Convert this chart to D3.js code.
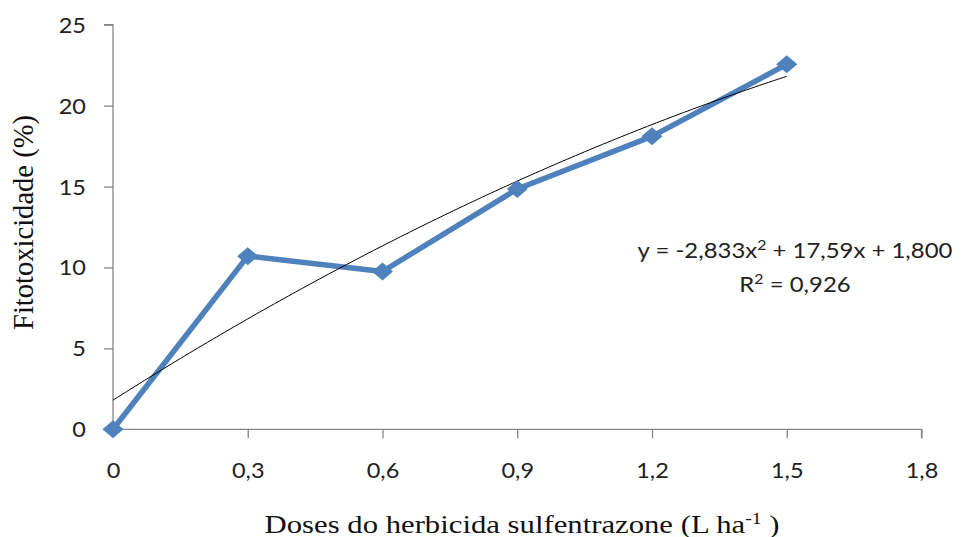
<!DOCTYPE html>
<html><head><meta charset="utf-8">
<script src="https://cdn.jsdelivr.net/npm/d3@7"></script>
<style>body{margin:0;background:#fff}svg{display:block}</style>
</head><body>
<svg id="c" width="963" height="537"></svg>
<script>
const doses = [0, 0.3, 0.6, 0.9, 1.2, 1.5];
const fitotox = [0, 10.7, 9.75, 14.85, 18.1, 22.55];
const xTicks = [0, 0.3, 0.6, 0.9, 1.2, 1.5, 1.8];
const xTickLabels = ["0", "0,3", "0,6", "0,9", "1,2", "1,5", "1,8"];
const yTicks = [0, 5, 10, 15, 20, 25];
const trendCoef = [-2.833, 17.59, 1.800]; // a x^2 + b x + c, from chart equation

const svg = d3.select("#c");
const x = d3.scaleLinear().domain([0, 1.8]).range([113, 921.5]);
const y = d3.scaleLinear().domain([0, 25]).range([429.3, 24.7]);
const axisColor = "#868686";
const tickFont = "Lato, 'Open Sans', sans-serif";
const serif = "'Liberation Serif', 'Times New Roman', serif";
const SX = 1.12; // horizontal stretch of the reference

// Y axis
const ya = svg.append("g").attr("transform", `translate(${x(0)},0)`)
  .call(d3.axisLeft(y).tickValues(yTicks).tickSize(9).tickFormat(d3.format("d")));
ya.select(".domain").attr("stroke", axisColor).attr("stroke-width", 1.3).attr("d", `M-9,${y(25)}H0V${y(0)}`);
ya.selectAll(".tick line").attr("stroke", axisColor).attr("stroke-width", 1.3);
ya.selectAll(".tick text").attr("font-family", tickFont).attr("font-size", 21).attr("fill", "#222")
  .attr("x", 0).attr("dy", null).attr("y", 7.5).attr("text-anchor","end")
  .attr("transform", `translate(-27,0) scale(${SX},1)`);

// X axis
const xa = svg.append("g").attr("transform", `translate(0,${y(0)})`)
  .call(d3.axisBottom(x).tickValues(xTicks).tickSize(9).tickFormat((d,i)=>xTickLabels[i]));
xa.select(".domain").attr("stroke", axisColor).attr("stroke-width", 1.3).attr("d", `M${x(0)},0H${x(1.8)}V9`);
xa.selectAll(".tick").filter(d=>d===0).select("line").remove();
xa.selectAll(".tick line").attr("stroke", axisColor).attr("stroke-width", 1.3);
xa.selectAll(".tick text").attr("font-family", tickFont).attr("font-size", 21).attr("fill", "#222")
  .attr("dy", null).attr("y", 48.5).attr("transform", `scale(${SX},1)`);

// Data line
const pts = doses.map((d,i)=>[d, fitotox[i]]);
svg.append("path").datum(pts)
  .attr("d", d3.line().x(d=>x(d[0])).y(d=>y(d[1])))
  .attr("fill","none").attr("stroke","#4F81BD").attr("stroke-width",5.5).attr("stroke-linejoin","round");

// Trend line
const tx = d3.range(0, 1.5001, 0.01);
svg.append("path").datum(tx)
  .attr("d", d3.line().x(d=>x(d)).y(d=>y(trendCoef[0]*d*d + trendCoef[1]*d + trendCoef[2])))
  .attr("fill","none").attr("stroke","#000").attr("stroke-width",1);

// Markers (diamonds)
svg.append("g").selectAll("path").data(pts).join("path")
  .attr("transform", d=>`translate(${x(d[0])},${y(d[1])})`)
  .attr("d", "M0,-9L10.5,0L0,9L-10.5,0Z")
  .attr("fill","#4F81BD");

// Equation
const eqFont = 21;
const eq = svg.append("g").attr("transform","translate(795,0)");
const l1 = eq.append("text").attr("y",258).attr("text-anchor","middle").attr("font-family",tickFont)
  .attr("font-size",eqFont).attr("fill","#222");
l1.append("tspan").text("y = -2,833x");
l1.append("tspan").attr("font-size",14).attr("dy",-8).text("2");
l1.append("tspan").attr("dy",8).text(" + 17,59x + 1,800");
const l2 = eq.append("text").attr("y",292).attr("text-anchor","middle").attr("font-family",tickFont)
  .attr("font-size",eqFont).attr("fill","#222");
l2.append("tspan").text("R");
l2.append("tspan").attr("font-size",14).attr("dy",-8).text("2");
l2.append("tspan").attr("dy",8).text(" = 0,926");
const w1 = l1.node().getComputedTextLength();
eq.selectAll("text").attr("transform", `scale(${315/w1},1)`);

// Y title
const ytG = svg.append("g");
const yt = ytG.append("text").attr("text-anchor","middle").attr("font-family",serif)
  .attr("font-size",25).attr("fill","#111").text("Fitotoxicidade (%)");
const ytl = yt.node().getComputedTextLength();
ytG.attr("transform", `translate(33,222.5) rotate(-90) scale(${215/ytl},1.2)`);

// X title
const xtG = svg.append("g");
const xt = xtG.append("text").attr("text-anchor","middle").attr("font-family",serif)
  .attr("font-size",25).attr("fill","#111");
xt.append("tspan").text("Doses do herbicida sulfentrazone (L  ha");
xt.append("tspan").attr("dy",-9).attr("font-size",16).text("-1");
xt.append("tspan").attr("dy",9).text(" )");
const xtl = xt.node().getComputedTextLength();
xtG.attr("transform", `translate(522,533) scale(${515/xtl},1)`);
</script>
</body></html>
